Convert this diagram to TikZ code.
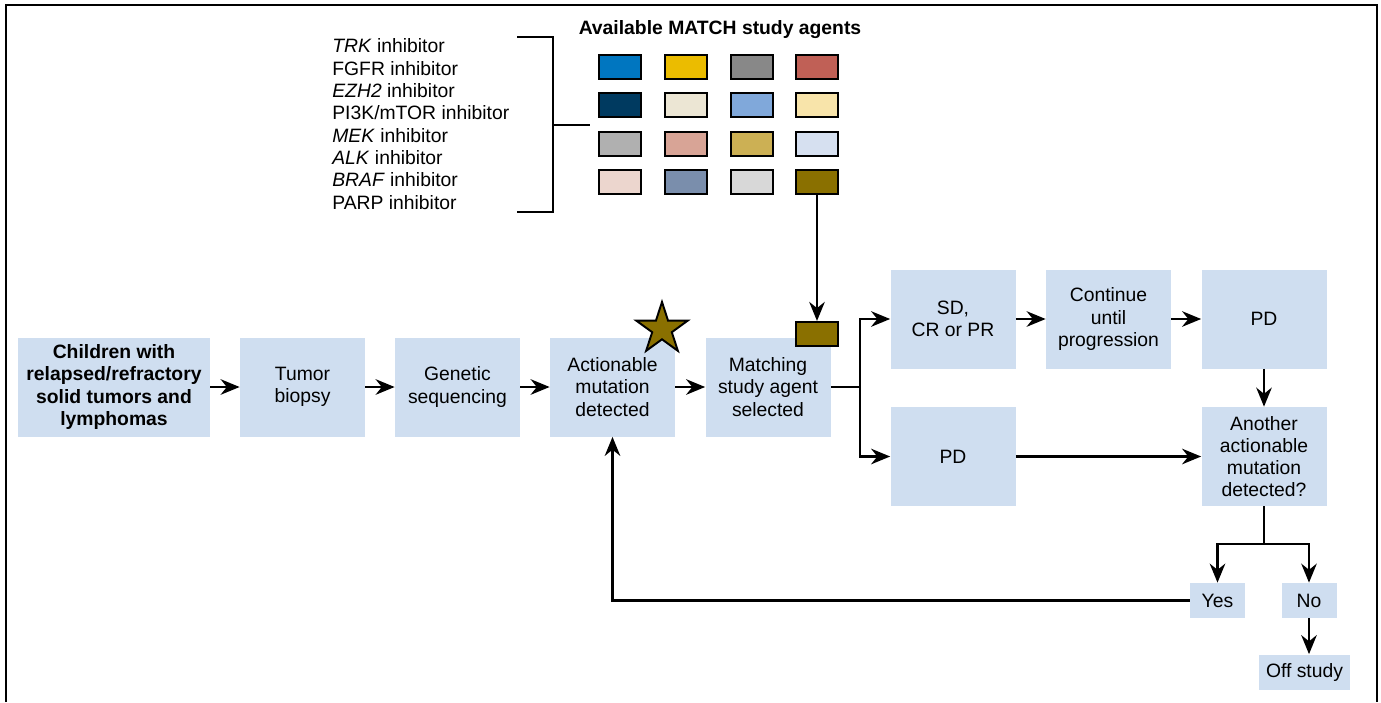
\documentclass[tikz,border=0pt]{standalone}
\usepackage{fontspec}
\setmainfont{Liberation Sans}
\usetikzlibrary{arrows.meta,shapes.geometric}
\definecolor{matchblue}{RGB}{207,222,240}
\definecolor{agentblue}{RGB}{0,118,192}
\definecolor{agentyellow}{RGB}{235,188,0}
\definecolor{agentgray}{RGB}{136,136,136}
\definecolor{agentred}{RGB}{192,96,86}
\definecolor{agentnavy}{RGB}{0,58,96}
\definecolor{agentcream}{RGB}{236,230,212}
\definecolor{agentsky}{RGB}{128,168,218}
\definecolor{agentsand}{RGB}{248,228,170}
\definecolor{agentsilver}{RGB}{176,176,176}
\definecolor{agentrose}{RGB}{216,164,150}
\definecolor{agentgold}{RGB}{204,176,84}
\definecolor{agentpale}{RGB}{214,224,240}
\definecolor{agentblush}{RGB}{236,214,206}
\definecolor{agentslate}{RGB}{122,142,172}
\definecolor{agentlight}{RGB}{216,216,216}
\definecolor{agentolive}{RGB}{138,112,0}

\begin{document}
\begin{tikzpicture}[x=0.2mm, y=-0.2mm,
  box/.style={fill=matchblue, minimum width=25mm, minimum height=19.8mm, align=center, inner sep=1pt, font=\fontsize{11}{12.6}\selectfont},
  tag/.style={fill=matchblue, minimum width=11mm, minimum height=7mm, inner sep=3pt, font=\fontsize{11}{12.6}\selectfont},
  agent/.style={draw, line width=1.2pt, minimum width=8.4mm, minimum height=4.8mm, inner sep=0pt},
  flow/.style={line width=1.5pt, -{Stealth[length=3.8mm, width=3.1mm]}}]
\useasboundingbox (0,0) rectangle (1381,702);
\draw[line width=1pt] (6,702) -- (6,5) -- (1377,5) -- (1377,702);

% legend of agents
\node[font=\bfseries\fontsize{11}{13}\selectfont] (title) at (720,30) {Available MATCH study agents};
\node[anchor=west, align=left, inner sep=0pt, font=\fontsize{11}{12.7}\selectfont] (drugs) at (332,124)
  {\textit{TRK} inhibitor\\ FGFR inhibitor\\ \textit{EZH2} inhibitor\\ PI3K/mTOR inhibitor\\
   \textit{MEK} inhibitor\\ \textit{ALK} inhibitor\\ \textit{BRAF} inhibitor\\ PARP inhibitor};
\draw[line width=1.5pt] (517,37) -- (553,37) -- (553,212) -- (517,212);
\draw[line width=1.5pt] (553,125) -- (590,125);
\foreach \x/\y/\c/\n in {620/67/agentblue/a11, 686/67/agentyellow/a12, 752/67/agentgray/a13, 817/67/agentred/a14,
                         620/105/agentnavy/a21, 686/105/agentcream/a22, 752/105/agentsky/a23, 817/105/agentsand/a24,
                         620/144/agentsilver/a31, 686/144/agentrose/a32, 752/144/agentgold/a33, 817/144/agentpale/a34,
                         620/182/agentblush/a41, 686/182/agentslate/a42, 752/182/agentlight/a43, 817/182/agentolive/a44}
  \node[agent, fill=\c] (\n) at (\x,\y) {};

% main flow
\node[box, minimum width=38.4mm, font=\bfseries\fontsize{11}{12.6}\selectfont] (kids) at (114,387) {Children with\\ relapsed/refractory\\ solid tumors and\\ lymphomas};
\node[box] (biopsy) at (302.5,387) {Tumor\\ biopsy};
\node[box] (seq) at (457.5,387) {Genetic\\ sequencing};
\node[box] (act) at (612.5,387) {Actionable\\ mutation\\ detected};
\node[box] (match) at (768,387) {Matching\\ study agent\\ selected};
\node[star, star points=5, star point ratio=2.618, draw, line width=1.1pt, fill=agentolive, minimum size=10.8mm, inner sep=0pt] (hit) at (662,329) {};
\node[agent, fill=agentolive] (pick) at (817,334) {};
\node[box] (sd) at (953,319) {SD,\\ CR or PR};
\node[box] (cont) at (1108.5,319) {Continue\\ until\\ progression};
\node[box] (pdtop) at (1264,319) {PD};
\node[box] (pdlow) at (953,456.5) {PD};
\node[box] (another) at (1264,456.5) {Another\\ actionable\\ mutation\\ detected?};
\node[tag] (yes) at (1217.5,600.5) {Yes};
\node[tag] (no) at (1309,600.5) {No};
\node[tag, minimum width=18.2mm] (off) at (1304.5,672) {Off study};
\coordinate (fork) at (860,387);
\coordinate (split) at (1264,544);

\draw[flow] (kids) -- (biopsy);
\draw[flow] (biopsy) -- (seq);
\draw[flow] (seq) -- (act);
\draw[flow] (act) -- (match);
\draw[flow] (a44) -- (pick);
\draw[line width=1.5pt] (match.east) -- (fork);
\draw[flow] (fork) |- (sd.west);
\draw[flow] (fork) |- (pdlow.west);
\draw[flow] (sd) -- (cont);
\draw[flow] (cont) -- (pdtop);
\draw[flow] (pdtop) -- (another);
\draw[flow] (pdlow) -- (another);
\draw[line width=1.5pt] (another.south) -- (split);
\draw[flow] (split) -| (yes.north);
\draw[flow] (split) -| (no.north);
\draw[flow] (yes.west) -| (act.south);
\draw[flow] (no.south) -- (no.south |- off.north);
\end{tikzpicture}
\end{document}
